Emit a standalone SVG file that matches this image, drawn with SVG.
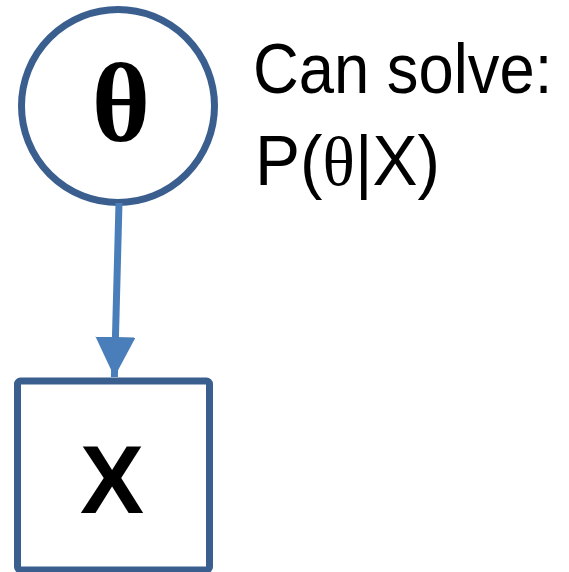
<svg xmlns="http://www.w3.org/2000/svg" width="569" height="572" viewBox="0 0 569 572">
<style>
.node{fill:#fff;stroke:#3A5F8F;stroke-width:7}
.lbl{font-family:"Liberation Sans",Arial,sans-serif;fill:#000}
.grk{font-family:"Liberation Serif","Times New Roman",serif;fill:#000}
</style>
<defs>
<marker id="ah" markerUnits="userSpaceOnUse" markerWidth="40" markerHeight="40" refX="40" refY="20" orient="auto" viewBox="0 0 40 40">
<path d="M0,0 L40,20 L0,40 Z" fill="#4A7EBB"/>
</marker>
</defs>
<g id="theta">
<circle class="node" cx="118" cy="106" r="96.5"/>
<text class="grk" x="121" y="141" font-size="112" font-weight="bold" text-anchor="middle">θ</text>
</g>
<g id="x">
<rect class="node" x="17.5" y="381" width="192" height="189" rx="3" stroke-width="8"/>
<text class="lbl" x="112" y="513" font-size="96" font-weight="bold" text-anchor="middle">X</text>
</g>
<g id="connectors">
<line x1="119" y1="203" x2="114.4" y2="377" stroke="#4A7EBB" stroke-width="7" marker-end="url(#ah)"/>
</g>
<g id="note">
<text class="lbl" transform="translate(253,93) scale(0.905,1)" x="0" y="0" font-size="70">Can solve:</text>
<text class="lbl" x="255" y="185" font-size="70" textLength="185" lengthAdjust="spacingAndGlyphs">P(<tspan class="grk">θ</tspan>|X)</text>
</g>
</svg>
